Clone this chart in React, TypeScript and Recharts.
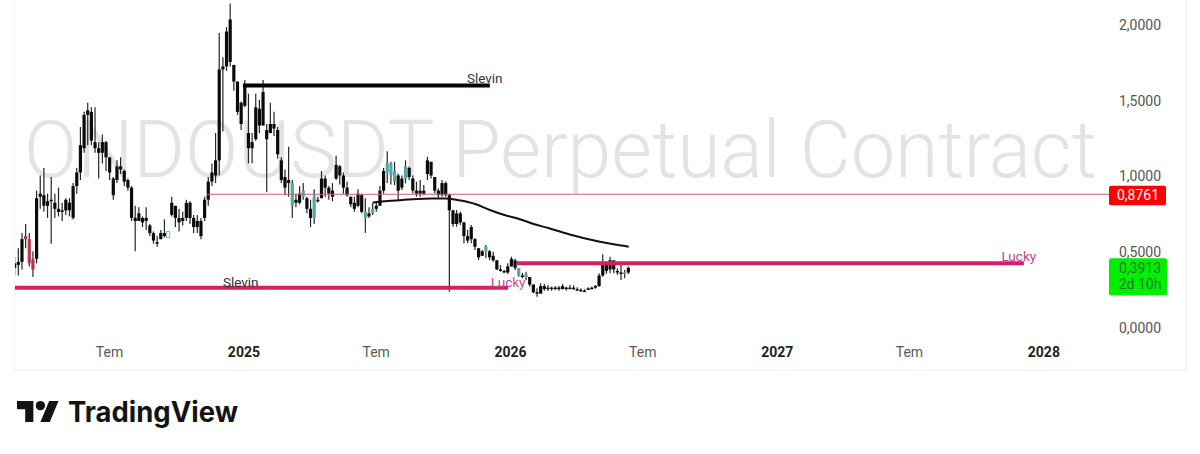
import React from "react";
import { ComposedChart, Bar, Line, XAxis, YAxis, ReferenceLine, ReferenceDot, Customized } from "recharts";

const day = (s: string) => Date.parse(s + "T00:00:00Z") / 86400000;

const START_DATE = "2024-02-24";
const END_DATE = "2028-04-06";
const CANDLE_DAYS = 5;

const highs = [
  .46,.52,.62,.68,.62,.50,.90,1.00,1.05,.88,
  .99,.88,.92,.82,.85,.85,.95,1.05,1.32,1.42,
  1.48,1.45,1.45,1.22,1.27,1.23,1.12,.99,1.10,1.12,
  1.04,.98,.93,.80,.79,.73,.79,.68,.63,.60,
  .64,.71,.63,.86,.80,.78,.76,.84,.83,.74,
  .74,.72,.86,.99,1.08,1.28,1.94,1.78,1.98,2.136,
  1.73,1.62,1.49,1.63,1.54,1.28,1.54,1.50,1.63,1.34,
  1.48,1.42,1.32,1.12,1.04,1.19,.97,.88,.93,.95,
  .86,.84,.91,.86,1.03,1.00,.93,.95,1.13,1.07,
  1.02,.96,.86,.86,.91,.88,.85,.79,.82,.82,
  .93,1.05,1.16,1.09,1.09,1.014,1.0,1.10,1.06,1.0,
  .96,.97,.937,1.124,1.09,.99,.915,.97,.96,.88,
  .772,.772,.76,.695,.64,.673,.585,.519,.508,.541,
  .508,.497,.442,.409,.376,.42,.464,.45,.39,.358,
  .365,.33,.28,.255,.288,.284,.277,.266,.27,.27,
  .284,.266,.277,.275,.262,.255,.25,.262,.266,.277,
  .354,.48,.42,.464,.438,.387,.42,.376,.40,
];
const lows = [
  .34,.34,.38,.52,.40,.33,.42,.78,.76,.72,
  .55,.72,.73,.70,.74,.73,.71,.88,.97,1.15,
  1.20,1.20,1.15,.98,1.08,1.03,.97,.84,.95,1.01,
  .93,.90,.70,.50,.70,.66,.64,.60,.55,.53,
  .58,.59,.59,.73,.66,.63,.67,.70,.68,.62,
  .62,.58,.70,.80,.93,.95,1.00,1.29,1.69,1.72,
  1.56,1.40,1.30,1.45,1.08,1.08,1.23,1.28,1.33,.89,
  1.28,1.26,1.11,.95,.87,.86,.72,.79,.81,.84,
  .75,.66,.68,.82,.85,.86,.84,.83,.97,.94,
  .88,.86,.79,.76,.79,.75,.62,.72,.74,.76,
  .80,.88,.95,.94,.937,.838,.904,.948,.97,.882,
  .86,.86,.87,.97,.98,.882,.85,.86,.86,.233,
  .662,.662,.673,.552,.552,.552,.508,.442,.468,.453,
  .442,.431,.376,.365,.354,.35,.398,.376,.332,.321,
  .31,.266,.222,.20,.233,.24,.237,.24,.244,.24,
  .248,.24,.25,.244,.24,.233,.233,.244,.248,.253,
  .266,.332,.35,.354,.354,.343,.31,.321,.35,
];
const opens = [
  .39,.41,.43,.58,.58,.38,.45,.86,.87,.80,
  .83,.82,.78,.76,.77,.82,.72,.93,1.02,1.18,
  1.40,1.42,1.22,1.18,1.15,1.22,1.12,.98,.97,1.06,
  1.03,.97,.92,.72,.70,.72,.70,.67,.62,.56,
  .58,.62,.59,.74,.80,.72,.70,.72,.82,.72,
  .66,.70,.72,.84,.96,1.00,1.10,1.70,1.72,1.75,
  1.73,1.62,1.48,1.46,1.28,1.18,1.24,1.44,1.55,1.30,
  1.28,1.34,1.30,1.10,.99,.95,.95,.84,.82,.90,
  .85,.78,.72,.84,.85,.98,.92,.86,.98,1.06,
  1.00,.92,.86,.82,.80,.87,.76,.73,.75,.78,
  .80,.90,1.02,1.08,.96,1.00,.92,.98,1.05,.98,
  .90,.88,.90,1.01,1.09,.99,.90,.87,.95,.87,
  .77,.68,.75,.69,.60,.58,.58,.52,.47,.50,
  .50,.47,.44,.38,.37,.36,.40,.44,.39,.34,
  .33,.33,.28,.23,.22,.27,.25,.26,.25,.26,
  .25,.26,.25,.26,.25,.245,.24,.245,.25,.26,
  .27,.34,.42,.38,.44,.37,.36,.35,.36,
];
const closes = [
  .42,.43,.58,.60,.42,.45,.85,.88,.80,.83,
  .84,.78,.76,.77,.84,.77,.93,1.02,1.20,1.40,
  1.43,1.23,1.18,1.15,1.22,1.12,1.02,.87,1.06,1.04,
  .96,.92,.72,.70,.75,.69,.72,.62,.57,.55,
  .62,.60,.63,.82,.72,.69,.72,.82,.72,.66,
  .70,.60,.84,.96,1.02,1.10,1.70,1.72,1.95,2.03,
  1.62,1.42,1.34,1.60,1.18,1.22,1.45,1.33,1.33,1.24,
  1.34,1.31,1.14,.97,.92,.97,.80,.82,.88,.86,
  .78,.72,.86,.83,.98,.92,.88,.90,1.07,1.00,
  .92,.87,.81,.78,.88,.76,.72,.75,.78,.80,
  .90,1.03,1.08,1.00,1.03,.90,.98,1.06,.99,.90,
  .88,.90,.88,1.10,1.00,.90,.87,.95,.87,.77,
  .68,.75,.69,.60,.57,.66,.53,.46,.50,.53,
  .46,.44,.38,.37,.36,.40,.45,.39,.34,.33,
  .35,.28,.23,.22,.27,.25,.26,.25,.26,.25,
  .27,.25,.26,.25,.245,.24,.24,.255,.26,.27,
  .34,.43,.37,.44,.38,.36,.35,.36,.3913,
];

const tealCandles = [76,79,82,96,98,102,103,104,107,129,138,140,167];
const redCandles = [3,4,5];
const hollowCandles = [42];

const maIndex = [98,102,106,110,114,118,122,126,130,134,138,142,146,150,154,158,162,166,168];
const maValues = [.822,.832,.838,.845,.848,.848,.835,.812,.772,.739,.713,.680,.653,.624,.597,.574,.554,.538,.530];

const xTickDates = ["2024-07-01","2025-01-01","2025-07-01","2026-01-01","2026-07-01","2027-01-01","2027-07-01","2028-01-01"];
const xTickLabels = ["Tem","2025","Tem","2026","Tem","2027","Tem","2028"];
const yTicks = [0, 0.5, 1, 1.5, 2];
const LAST_PRICE = 0.3913;
const LEVEL_PRICE = 0.8761;
const COUNTDOWN = "2d 10h";

const rows = highs.map((h, i) => ({
  t: day(START_DATE) + CANDLE_DAYS * i,
  i, o: opens[i], h, l: lows[i], c: closes[i],
  ma: maIndex.includes(i) ? maValues[maIndex.indexOf(i)] : undefined,
}));

const comma = (v: number) => v.toFixed(4).replace(".", ",");

const Candle = (props: any) => {
  const { x, y, width, height, payload } = props;
  if (!payload || !(height > 0)) return null;
  const { o, h, l, c, i } = payload;
  const perUnit = height / (h - l);
  const cx = x + width / 2;
  const top = y + (h - Math.max(o, c)) * perUnit;
  const bodyH = Math.max(1.5, Math.abs(o - c) * perUnit);
  const tone = tealCandles.includes(i) ? "#4fa9a9" : redCandles.includes(i) ? "#b5384f" : "#0b0b0b";
  const hollow = hollowCandles.includes(i);
  return (
    <g>
      <line x1={cx} x2={cx} y1={y} y2={y + height} stroke={hollow ? "#7fbdbd" : "#262626"} strokeWidth={1.2} />
      <rect x={cx - 1.6} y={top} width={3.2} height={bodyH}
        fill={hollow ? "#ffffff" : tone} stroke={hollow ? "#7fbdbd" : "none"} strokeWidth={hollow ? 1 : 0} />
    </g>
  );
};

const XTick = (props: any) => {
  const { x, y, payload } = props;
  const label = xTickLabels[xTickDates.findIndex((d) => day(d) === payload.value)];
  const isYear = /^\d/.test(label ?? "");
  return (
    <text x={x + 1} y={y + 6} textAnchor="middle" dominantBaseline="central" fontFamily="Roboto"
      fontSize={14} fontWeight={isYear ? 700 : 400} fill={isYear ? "#1e1e1e" : "#5a5a5a"}>
      {label}
    </text>
  );
};

const YTick = (props: any) => {
  const { y, payload } = props;
  const v = payload.value;
  const left = 1109;
  if (v === LEVEL_PRICE) {
    return (
      <g>
        <rect x={left} y={y - 8.5} width={57} height={19.5} rx={2} fill="#ff0000" />
        <text x={left + 29} y={y + 1} textAnchor="middle" dominantBaseline="central" fontFamily="Roboto" fontSize={14} fill="#ffffff">{comma(v)}</text>
      </g>
    );
  }
  if (v === LAST_PRICE) {
    return (
      <g>
        <rect x={left} y={y - 9.5} width={58} height={37} rx={2} fill="#00f000" />
        <text x={left + 31} y={y + 0.5} textAnchor="middle" dominantBaseline="central" fontFamily="Roboto" fontSize={14} fill="#147a1e">{comma(v)}</text>
        <text x={left + 31} y={y + 16.5} textAnchor="middle" dominantBaseline="central" fontFamily="Roboto" fontSize={14} fill="#147a1e">{COUNTDOWN}</text>
      </g>
    );
  }
  return (
    <text x={1119} y={y + 1} textAnchor="start" dominantBaseline="central" fontFamily="Roboto" fontSize={14} fill="#555555">
      {comma(v)}
    </text>
  );
};

const Watermark = () => (
  <text x={24} y={177} fontFamily="Roboto" fontWeight={300} fontSize={80} fill="#e3e3e3"
    textLength={1073} lengthAdjust="spacingAndGlyphs">
    ONDOUSDT Perpetual Contract
  </text>
);

const note = (x: string, y: number, value: string, fill: string) => (
  <ReferenceDot x={day(x)} y={y} r={0} fill="none" stroke="none" ifOverflow="visible"
    label={{ value, position: "center", fill, fontSize: 13.5, fontFamily: "Roboto" }} />
);

export default function App() {
  return (
    <div style={{ position: "absolute", left: 0, top: 0, width: 1200, height: 454, background: "#fff", overflow: "hidden" }}>
      <div style={{ position: "absolute", left: 14, top: 0, width: 1171, height: 370, borderLeft: "1px solid #f3f3f3", borderRight: "1px solid #f0f0f0", borderBottom: "1px solid #f0f0f0" }} />
      <div style={{ position: "absolute", left: 0, top: 0 }}>
        <ComposedChart width={1200} height={454} data={rows} margin={{ top: 0, right: 14, bottom: 84, left: 15 }}>
          <Customized component={Watermark} />
          <XAxis dataKey="t" type="number" scale="linear" domain={[day(START_DATE), day(END_DATE)]} allowDataOverflow
            ticks={xTickDates.map(day)} tick={<XTick />} tickLine={false} axisLine={false} height={30} interval={0} tickMargin={0} />
          <YAxis orientation="right" type="number" domain={[-0.0858, 2.1584]} allowDataOverflow
            ticks={[...yTicks, LEVEL_PRICE, LAST_PRICE]} tick={<YTick />} tickLine={false} axisLine={false} width={73} interval={0} />
          <ReferenceLine stroke="#c9616b" strokeWidth={1} ifOverflow="visible"
            segment={[{ x: day("2024-11-13"), y: LEVEL_PRICE }, { x: day(END_DATE), y: LEVEL_PRICE }]} />
          <Bar dataKey={(d: any) => [d.l, d.h]} barSize={3} shape={<Candle />} isAnimationActive={false} />
          <Line dataKey="ma" type="monotone" stroke="#111111" strokeWidth={2} dot={false} connectNulls isAnimationActive={false} />
          <ReferenceLine stroke="#000000" strokeWidth={4} ifOverflow="visible"
            segment={[{ x: day("2025-01-01"), y: 1.594 }, { x: day("2025-12-05"), y: 1.594 }]} />
          <ReferenceLine stroke="#d81f63" strokeWidth={4} ifOverflow="visible"
            segment={[{ x: day(START_DATE), y: 0.2594 }, { x: day("2025-12-30"), y: 0.2594 }]} />
          <ReferenceLine stroke="#d81f63" strokeWidth={4} ifOverflow="visible"
            segment={[{ x: day("2026-01-11"), y: 0.42 }, { x: day("2027-12-06"), y: 0.42 }]} />
          {note("2025-11-28", 1.644, "Slevin", "#333333")}
          {note("2024-12-29", 0.297, "Slevin", "#333333")}
          {note("2025-12-30", 0.297, "Lucky", "#d0458f")}
          {note("2027-11-29", 0.469, "Lucky", "#c0478f")}
        </ComposedChart>
      </div>
      <svg width={320} height={50} style={{ position: "absolute", left: 0, top: 395 }}>
        <g transform="translate(17,1.3) scale(1.17)" fill="#131313">
          <path d="M14 22H7V11H0V4h14v18zM28 22h-8l7.5-18h8L28 22z" />
          <circle cx={20} cy={8} r={4} />
        </g>
        <text x={68} y={27} fontFamily="Inter" fontWeight={700} fontSize={28} fill="#131313" textLength={170} lengthAdjust="spacingAndGlyphs">TradingView</text>
      </svg>
    </div>
  );
}
